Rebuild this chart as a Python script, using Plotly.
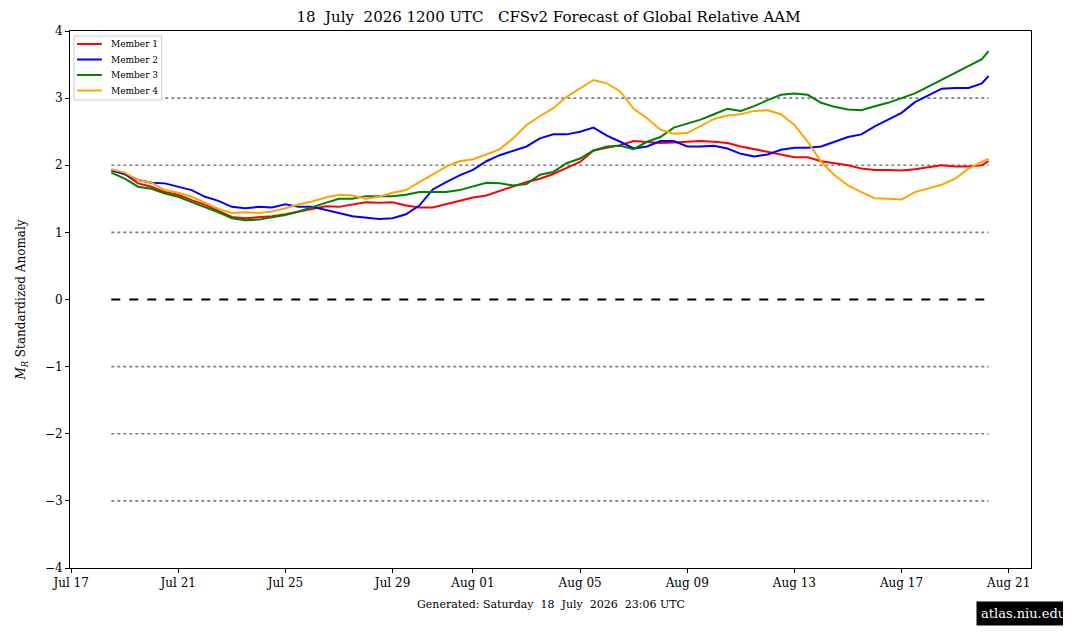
#!/usr/bin/env python3
"""CFSv2 forecast of global relative AAM - plotly version"""

import pandas as pd
import plotly.graph_objects as go

# 12-hourly forecast times, last point at 06 UTC
times = list(pd.date_range("2026-07-18 12:00", "2026-08-20 00:00", freq="12h"))
times.append(pd.Timestamp("2026-08-20 06:00"))

member1 = [1.92, 1.87, 1.73, 1.68, 1.60, 1.56, 1.48, 1.41, 1.32, 1.23,
           1.21, 1.22, 1.24, 1.27, 1.31, 1.36, 1.39, 1.38, 1.41, 1.45,
           1.44, 1.45, 1.40, 1.37, 1.37, 1.42, 1.48, 1.52, 1.55, 1.62,
           1.69, 1.75, 1.80, 1.87, 1.96, 2.05, 2.22, 2.26, 2.30, 2.36,
           2.35, 2.33, 2.34, 2.35, 2.36, 2.35, 2.33, 2.28, 2.24, 2.21,
           2.16, 2.12, 2.12, 2.06, 2.03, 2.00, 1.95, 1.93, 1.93, 1.92,
           1.94, 1.97, 2.00, 1.98, 1.98, 2.00, 2.06]
member2 = [1.93, 1.87, 1.78, 1.74, 1.73, 1.68, 1.63, 1.53, 1.47, 1.38,
           1.36, 1.38, 1.37, 1.42, 1.38, 1.38, 1.34, 1.29, 1.24, 1.22,
           1.20, 1.21, 1.27, 1.40, 1.64, 1.75, 1.85, 1.93, 2.06, 2.15,
           2.21, 2.28, 2.40, 2.46, 2.46, 2.50, 2.56, 2.44, 2.35, 2.25,
           2.28, 2.36, 2.36, 2.28, 2.28, 2.29, 2.25, 2.17, 2.13, 2.16,
           2.23, 2.26, 2.26, 2.28, 2.35, 2.42, 2.46, 2.58, 2.68, 2.78,
           2.94, 3.04, 3.14, 3.15, 3.15, 3.22, 3.33]
member3 = [1.89, 1.80, 1.68, 1.65, 1.58, 1.53, 1.45, 1.38, 1.30, 1.21,
           1.18, 1.19, 1.22, 1.26, 1.31, 1.38, 1.44, 1.50, 1.50, 1.54,
           1.54, 1.54, 1.56, 1.60, 1.60, 1.60, 1.63, 1.68, 1.74, 1.73,
           1.70, 1.72, 1.86, 1.90, 2.03, 2.10, 2.22, 2.28, 2.29, 2.24,
           2.35, 2.42, 2.56, 2.62, 2.68, 2.76, 2.84, 2.81, 2.88, 2.97,
           3.05, 3.07, 3.05, 2.93, 2.87, 2.83, 2.82, 2.88, 2.93, 3.00,
           3.07, 3.17, 3.27, 3.37, 3.48, 3.58, 3.70]
member4 = [1.94, 1.89, 1.78, 1.74, 1.63, 1.59, 1.53, 1.44, 1.35, 1.29,
           1.30, 1.29, 1.31, 1.36, 1.42, 1.46, 1.52, 1.56, 1.55, 1.50,
           1.53, 1.59, 1.63, 1.75, 1.86, 1.98, 2.06, 2.09, 2.16, 2.24,
           2.40, 2.60, 2.73, 2.85, 3.02, 3.15, 3.27, 3.22, 3.10, 2.84,
           2.70, 2.53, 2.47, 2.48, 2.58, 2.69, 2.74, 2.76, 2.81, 2.82,
           2.76, 2.60, 2.35, 2.05, 1.85, 1.70, 1.60, 1.51, 1.50, 1.49,
           1.60, 1.65, 1.71, 1.80, 1.95, 2.05, 2.10]

members = ["Member 1", "Member 2", "Member 3", "Member 4"]
colors = ["red", "blue", "green", "orange"]

grid_levels = [-3, -2, -1, 1, 2, 3]
y_ticks = [-4, -3, -2, -1, 0, 1, 2, 3, 4]
x_tickvals = ["2026-07-17", "2026-07-21", "2026-07-25", "2026-07-29", "2026-08-01",
              "2026-08-05", "2026-08-09", "2026-08-13", "2026-08-17", "2026-08-21"]
x_ticktext = ["Jul 17", "Jul 21", "Jul 25", "Jul 29", "Aug 01",
              "Aug 05", "Aug 09", "Aug 13", "Aug 17", "Aug 21"]

FONT = "DejaVu Serif"

# figure is drawn 8px in from the page corner (body margin)
W, H = 1063, 630
L, R, T, B = 58, 40, 23, 70
PW, PH = W - L - R, H - T - B


def px(x):
    """figure pixel x -> paper x"""
    return (x - L) / PW


def py(y):
    """figure pixel y -> paper y"""
    return (H - B - y) / PH


fig = go.Figure()

# reference lines over the forecast period
for lev in grid_levels:
    fig.add_shape(type="line", x0=times[0], x1=times[-1], y0=lev, y1=lev,
                  xref="x", yref="y", layer="below",
                  line=dict(color="grey", width=1.6, dash="dot"))
fig.add_shape(type="line", x0=times[0], x1=times[-1], y0=0, y1=0,
              xref="x", yref="y", layer="below",
              line=dict(color="black", width=2, dash="dash"))

for name, col, vals in zip(members, colors, [member1, member2, member3, member4]):
    fig.add_trace(go.Scatter(x=times, y=vals, mode="lines", name=name,
                             line=dict(color=col, width=2), showlegend=False))

# compact legend box, top left (matplotlib-like)
fig.add_shape(type="rect", xref="paper", yref="paper",
              x0=px(62), x1=px(150), y0=py(28), y1=py(92),
              line=dict(color="#cccccc", width=1), fillcolor="white")
for k, (name, col) in enumerate(zip(members, colors)):
    yy = py(36 + 15.5 * k)
    fig.add_shape(type="line", xref="paper", yref="paper",
                  x0=px(65), x1=px(90), y0=yy, y1=yy,
                  line=dict(color=col, width=2))
    fig.add_annotation(text=name, xref="paper", yref="paper",
                       x=px(97), y=yy, xanchor="left", yanchor="middle",
                       showarrow=False, font=dict(family=FONT, size=9))

fig.update_layout(
    width=W, height=H,
    margin=dict(l=L, r=R, t=T, b=B),
    paper_bgcolor="white", plot_bgcolor="white",
    font=dict(family=FONT, size=12, color="black"),
    title=dict(text="18  July  2026 1200 UTC   CFSv2 Forecast of Global Relative AAM",
               x=(L + PW / 2) / W, xanchor="center", y=1 - 9 / H, yanchor="middle",
               font=dict(family=FONT, size=15)),
    showlegend=False,
)

fig.update_xaxes(
    range=["2026-07-16 23:00", "2026-08-21 20:00"],
    tickvals=x_tickvals, ticktext=x_ticktext,
    showgrid=False, zeroline=False,
    showline=True, linecolor="black", linewidth=1, mirror=True,
    ticks="outside", ticklen=4, tickcolor="black",
    tickfont=dict(family=FONT, size=12),
)
fig.update_yaxes(
    range=[-4, 4], tickvals=y_ticks,
    showgrid=False, zeroline=False,
    showline=True, linecolor="black", linewidth=1, mirror=True,
    ticks="outside", ticklen=4, tickcolor="black",
    tickfont=dict(family=FONT, size=12),
    title=dict(text="<i>M</i><sub><i>R</i></sub> Standardized Anomaly",
               font=dict(family=FONT, size=12), standoff=16),
)

fig.add_annotation(text="Generated: Saturday  18  July  2026  23:06 UTC",
                   xref="paper", yref="paper", x=0.5, y=py(596),
                   xanchor="center", yanchor="middle", showarrow=False,
                   font=dict(family=FONT, size=11))
fig.add_annotation(text="atlas.niu.edu",
                   xref="paper", yref="paper", x=px(W), y=py(605),
                   xanchor="right", yanchor="middle", showarrow=False,
                   bgcolor="black", borderpad=4,
                   font=dict(family=FONT, size=13, color="white"))

fig.write_html("out.html")
